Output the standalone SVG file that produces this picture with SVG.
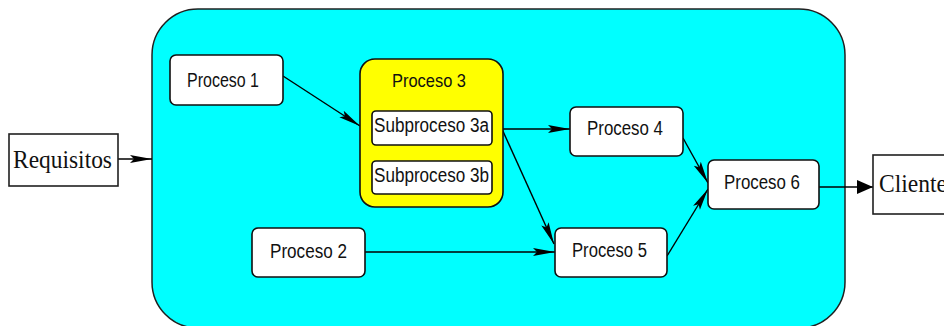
<svg xmlns="http://www.w3.org/2000/svg" width="944" height="326" viewBox="0 0 944 326">
  <style>
    .bg { fill: #ffffff; }
    .system { fill: #00ffff; stroke: #202020; stroke-width: 1.5; }
    .proc { fill: #ffffff; stroke: #101010; stroke-width: 1.6; }
    .group { fill: #ffff00; stroke: #101010; stroke-width: 1.6; }
    .ext { fill: #ffffff; stroke: #202020; stroke-width: 1.6; }
    .lbl { font-family: "Liberation Sans", Arial, sans-serif; font-size: 20px; fill: #111111; }
    .serif { font-family: "Liberation Serif", "Times New Roman", serif; font-size: 26px; fill: #111111; }
    .edge { fill: none; stroke: #000000; stroke-width: 1.4; }
  </style>
  <defs>
    <marker id="arr" markerUnits="userSpaceOnUse" markerWidth="24" markerHeight="12" refX="22" refY="5" orient="auto">
      <path d="M0,1 L22,5 L0,9 L4,5 Z" fill="#000000"/>
    </marker>
    <marker id="arrW" markerUnits="userSpaceOnUse" markerWidth="18" markerHeight="16" refX="16" refY="7" orient="auto">
      <path d="M0,0 L16,7 L0,14 Z" fill="#000000"/>
    </marker>
  </defs>

  <rect class="bg" x="0" y="0" width="944" height="326"/>

  <!-- system boundary -->
  <g id="sistema">
    <rect class="system" x="152" y="9" width="693" height="319" rx="46" ry="46"/>
  </g>

  <!-- connectors -->
  <g id="connectors">
    <line class="edge" x1="118" y1="159" x2="152" y2="159" marker-end="url(#arr)"/>
    <line class="edge" x1="283" y1="76" x2="360" y2="126" marker-end="url(#arr)"/>
    <line class="edge" x1="493" y1="129" x2="570" y2="129" marker-end="url(#arr)"/>
    <line class="edge" x1="502" y1="129" x2="554" y2="244" marker-end="url(#arr)"/>
    <line class="edge" x1="365" y1="252" x2="555" y2="252" marker-end="url(#arr)"/>
    <line class="edge" x1="683" y1="138" x2="708" y2="183" marker-end="url(#arr)"/>
    <line class="edge" x1="667" y1="256" x2="708" y2="189" marker-end="url(#arr)"/>
    <line class="edge" x1="819" y1="187" x2="873" y2="187" marker-end="url(#arrW)"/>
  </g>

  <g id="requisitos">
    <rect class="ext" x="9" y="134" width="109" height="52"/>
    <text class="serif" x="13" y="168" textLength="99" lengthAdjust="spacingAndGlyphs">Requisitos</text>
  </g>

  <g id="proceso1">
    <rect class="proc" x="170" y="55" width="113" height="50" rx="6"/>
    <text class="lbl" x="187" y="87" textLength="72" lengthAdjust="spacingAndGlyphs">Proceso 1</text>
  </g>

  <g id="proceso2">
    <rect class="proc" x="252" y="228" width="113" height="49" rx="6"/>
    <text class="lbl" x="270" y="258" textLength="77" lengthAdjust="spacingAndGlyphs">Proceso 2</text>
  </g>

  <g id="proceso3">
    <rect class="group" x="360" y="59" width="143" height="148" rx="15"/>
    <text class="lbl" x="392" y="87" textLength="74" lengthAdjust="spacingAndGlyphs" style="font-size:19px">Proceso 3</text>
    <g id="subproceso3a">
      <rect class="proc" x="372" y="111" width="120" height="34" rx="4"/>
      <text class="lbl" x="374" y="132" textLength="115" lengthAdjust="spacingAndGlyphs">Subproceso 3a</text>
    </g>
    <g id="subproceso3b">
      <rect class="proc" x="372" y="161" width="120" height="33" rx="4"/>
      <text class="lbl" x="374" y="182" textLength="115" lengthAdjust="spacingAndGlyphs">Subproceso 3b</text>
    </g>
  </g>

  <g id="proceso4">
    <rect class="proc" x="570" y="107" width="113" height="49" rx="6"/>
    <text class="lbl" x="587" y="135" textLength="76" lengthAdjust="spacingAndGlyphs">Proceso 4</text>
  </g>

  <g id="proceso5">
    <rect class="proc" x="555" y="228" width="112" height="49" rx="6"/>
    <text class="lbl" x="572" y="257" textLength="75" lengthAdjust="spacingAndGlyphs">Proceso 5</text>
  </g>

  <g id="proceso6">
    <rect class="proc" x="708" y="160" width="111" height="49" rx="6"/>
    <text class="lbl" x="724" y="189" textLength="76" lengthAdjust="spacingAndGlyphs">Proceso 6</text>
  </g>

  <g id="cliente">
    <rect class="ext" x="873" y="155" width="90" height="59"/>
    <text class="serif" x="879" y="192" textLength="68" lengthAdjust="spacingAndGlyphs">Cliente</text>
  </g>
</svg>
